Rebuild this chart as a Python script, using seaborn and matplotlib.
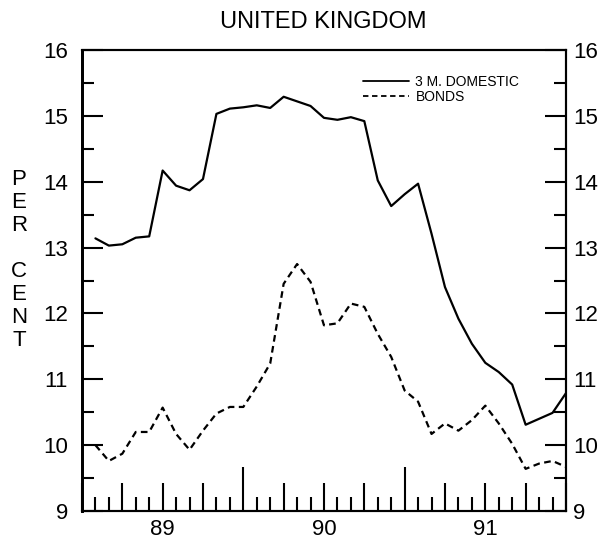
import matplotlib
matplotlib.use("Agg")
import matplotlib.pyplot as plt
import matplotlib.ticker as mticker
import pandas as pd
import seaborn as sns

# monthly values, month 1 = Feb 1989 ... month 36 = Jan 1992
months = list(range(1, 37))
domestic = [13.14, 13.03, 13.05, 13.15, 13.17, 14.17, 13.94, 13.87, 14.04, 15.03,
            15.11, 15.13, 15.16, 15.12, 15.29, 15.22, 15.15, 14.97, 14.94, 14.98,
            14.92, 14.02, 13.63, 13.81, 13.97, 13.21, 12.40, 11.92, 11.54, 11.25,
            11.11, 10.92, 10.31, 10.40, 10.49, 10.79]
bonds = [10.00, 9.76, 9.87, 10.20, 10.20, 10.57, 10.17, 9.93, 10.22, 10.48,
         10.58, 10.58, 10.89, 11.24, 12.45, 12.75, 12.48, 11.82, 11.85, 12.15,
         12.10, 11.69, 11.34, 10.83, 10.66, 10.17, 10.33, 10.22, 10.38, 10.60,
         10.33, 10.02, 9.64, 9.72, 9.76, 9.67]
series_names = ["3 M. DOMESTIC", "BONDS"]
year_labels = {6: "89", 18: "90", 30: "91"}

df = pd.DataFrame({
    "month": months * 2,
    "rate": domestic + bonds,
    "series": [series_names[0]] * len(months) + [series_names[1]] * len(months),
})

sns.set_style("ticks")
plt.rcParams["font.family"] = ["Liberation Sans", "DejaVu Sans"]
plt.rcParams.update({"text.color": "black", "axes.edgecolor": "black",
                     "xtick.color": "black", "ytick.color": "black",
                     "axes.labelcolor": "black"})

fig = plt.figure(figsize=(6.05, 5.40), dpi=100)
ax = fig.add_axes([0.1355, 0.0537, 0.8, 0.8537])

sns.lineplot(data=df, x="month", y="rate", style="series",
             dashes={series_names[0]: "", series_names[1]: (3, 2)},
             color="black", linewidth=1.6, errorbar=None, ax=ax)

ax.set_xlim(0, 36)
ax.set_ylim(9, 16)
ax.set_xlabel("")
ax.set_ylabel("")

# x ticks: months (short), quarters (medium), year boundaries (long)
ax.xaxis.set_major_locator(mticker.FixedLocator(range(0, 37, 3)))
ax.xaxis.set_minor_locator(mticker.FixedLocator(range(0, 37)))
ax.xaxis.set_major_formatter(mticker.FuncFormatter(lambda v, p: year_labels.get(int(round(v)), "")))
ax.tick_params(axis="x", which="major", direction="in", length=20, width=1.5,
               labelsize=16, pad=6, top=False)
ax.tick_params(axis="x", which="minor", direction="in", length=10, width=1.5, top=False)

# y ticks on both sides
ax.yaxis.set_major_locator(mticker.MultipleLocator(1))
ax.yaxis.set_minor_locator(mticker.MultipleLocator(0.5))
ax.tick_params(axis="y", which="major", direction="in", length=15, width=1.5,
               labelsize=16, pad=10)
ax.tick_params(axis="y", which="minor", direction="in", length=8.5, width=1.5)

ax2 = ax.twinx()
ax2.set_ylim(9, 16)
ax2.yaxis.set_major_locator(mticker.MultipleLocator(1))
ax2.yaxis.set_minor_locator(mticker.MultipleLocator(0.5))
ax2.tick_params(axis="y", which="major", direction="in", length=15, width=1.5,
                labelsize=16, pad=5)
ax2.tick_params(axis="y", which="minor", direction="in", length=8.5, width=1.5)

for a in (ax, ax2):
    for s in a.spines.values():
        s.set_visible(True)
        s.set_linewidth(1.5)
        s.set_color("black")
    a.spines["left"].set_linewidth(2)

handles, labels = ax.get_legend_handles_labels()
leg = ax.legend(handles, labels, loc="upper left", bbox_to_anchor=(0.58, 0.946),
                frameon=False, fontsize=10, handlelength=3.3, handletextpad=0.5,
                labelspacing=0.05, borderpad=0, borderaxespad=0)
for line in leg.get_lines():
    line.set_linewidth(1.3)

fig.text(0.535, 1 - 22 / 540, "UNITED KINGDOM", ha="center", va="center", fontsize=17)
fig.text(19 / 605, 1 - 260 / 540, "P\nE\nR\n\nC\nE\nN\nT", ha="center", va="center",
         fontsize=16, linespacing=1.12)

# longer ticks at the year boundaries
fig.canvas.draw()
major_ticks = ax.xaxis.get_major_ticks()
for i in (4, 8):
    major_ticks[i].tick1line.set_markersize(32)

fig.savefig("out.png", dpi=100)
